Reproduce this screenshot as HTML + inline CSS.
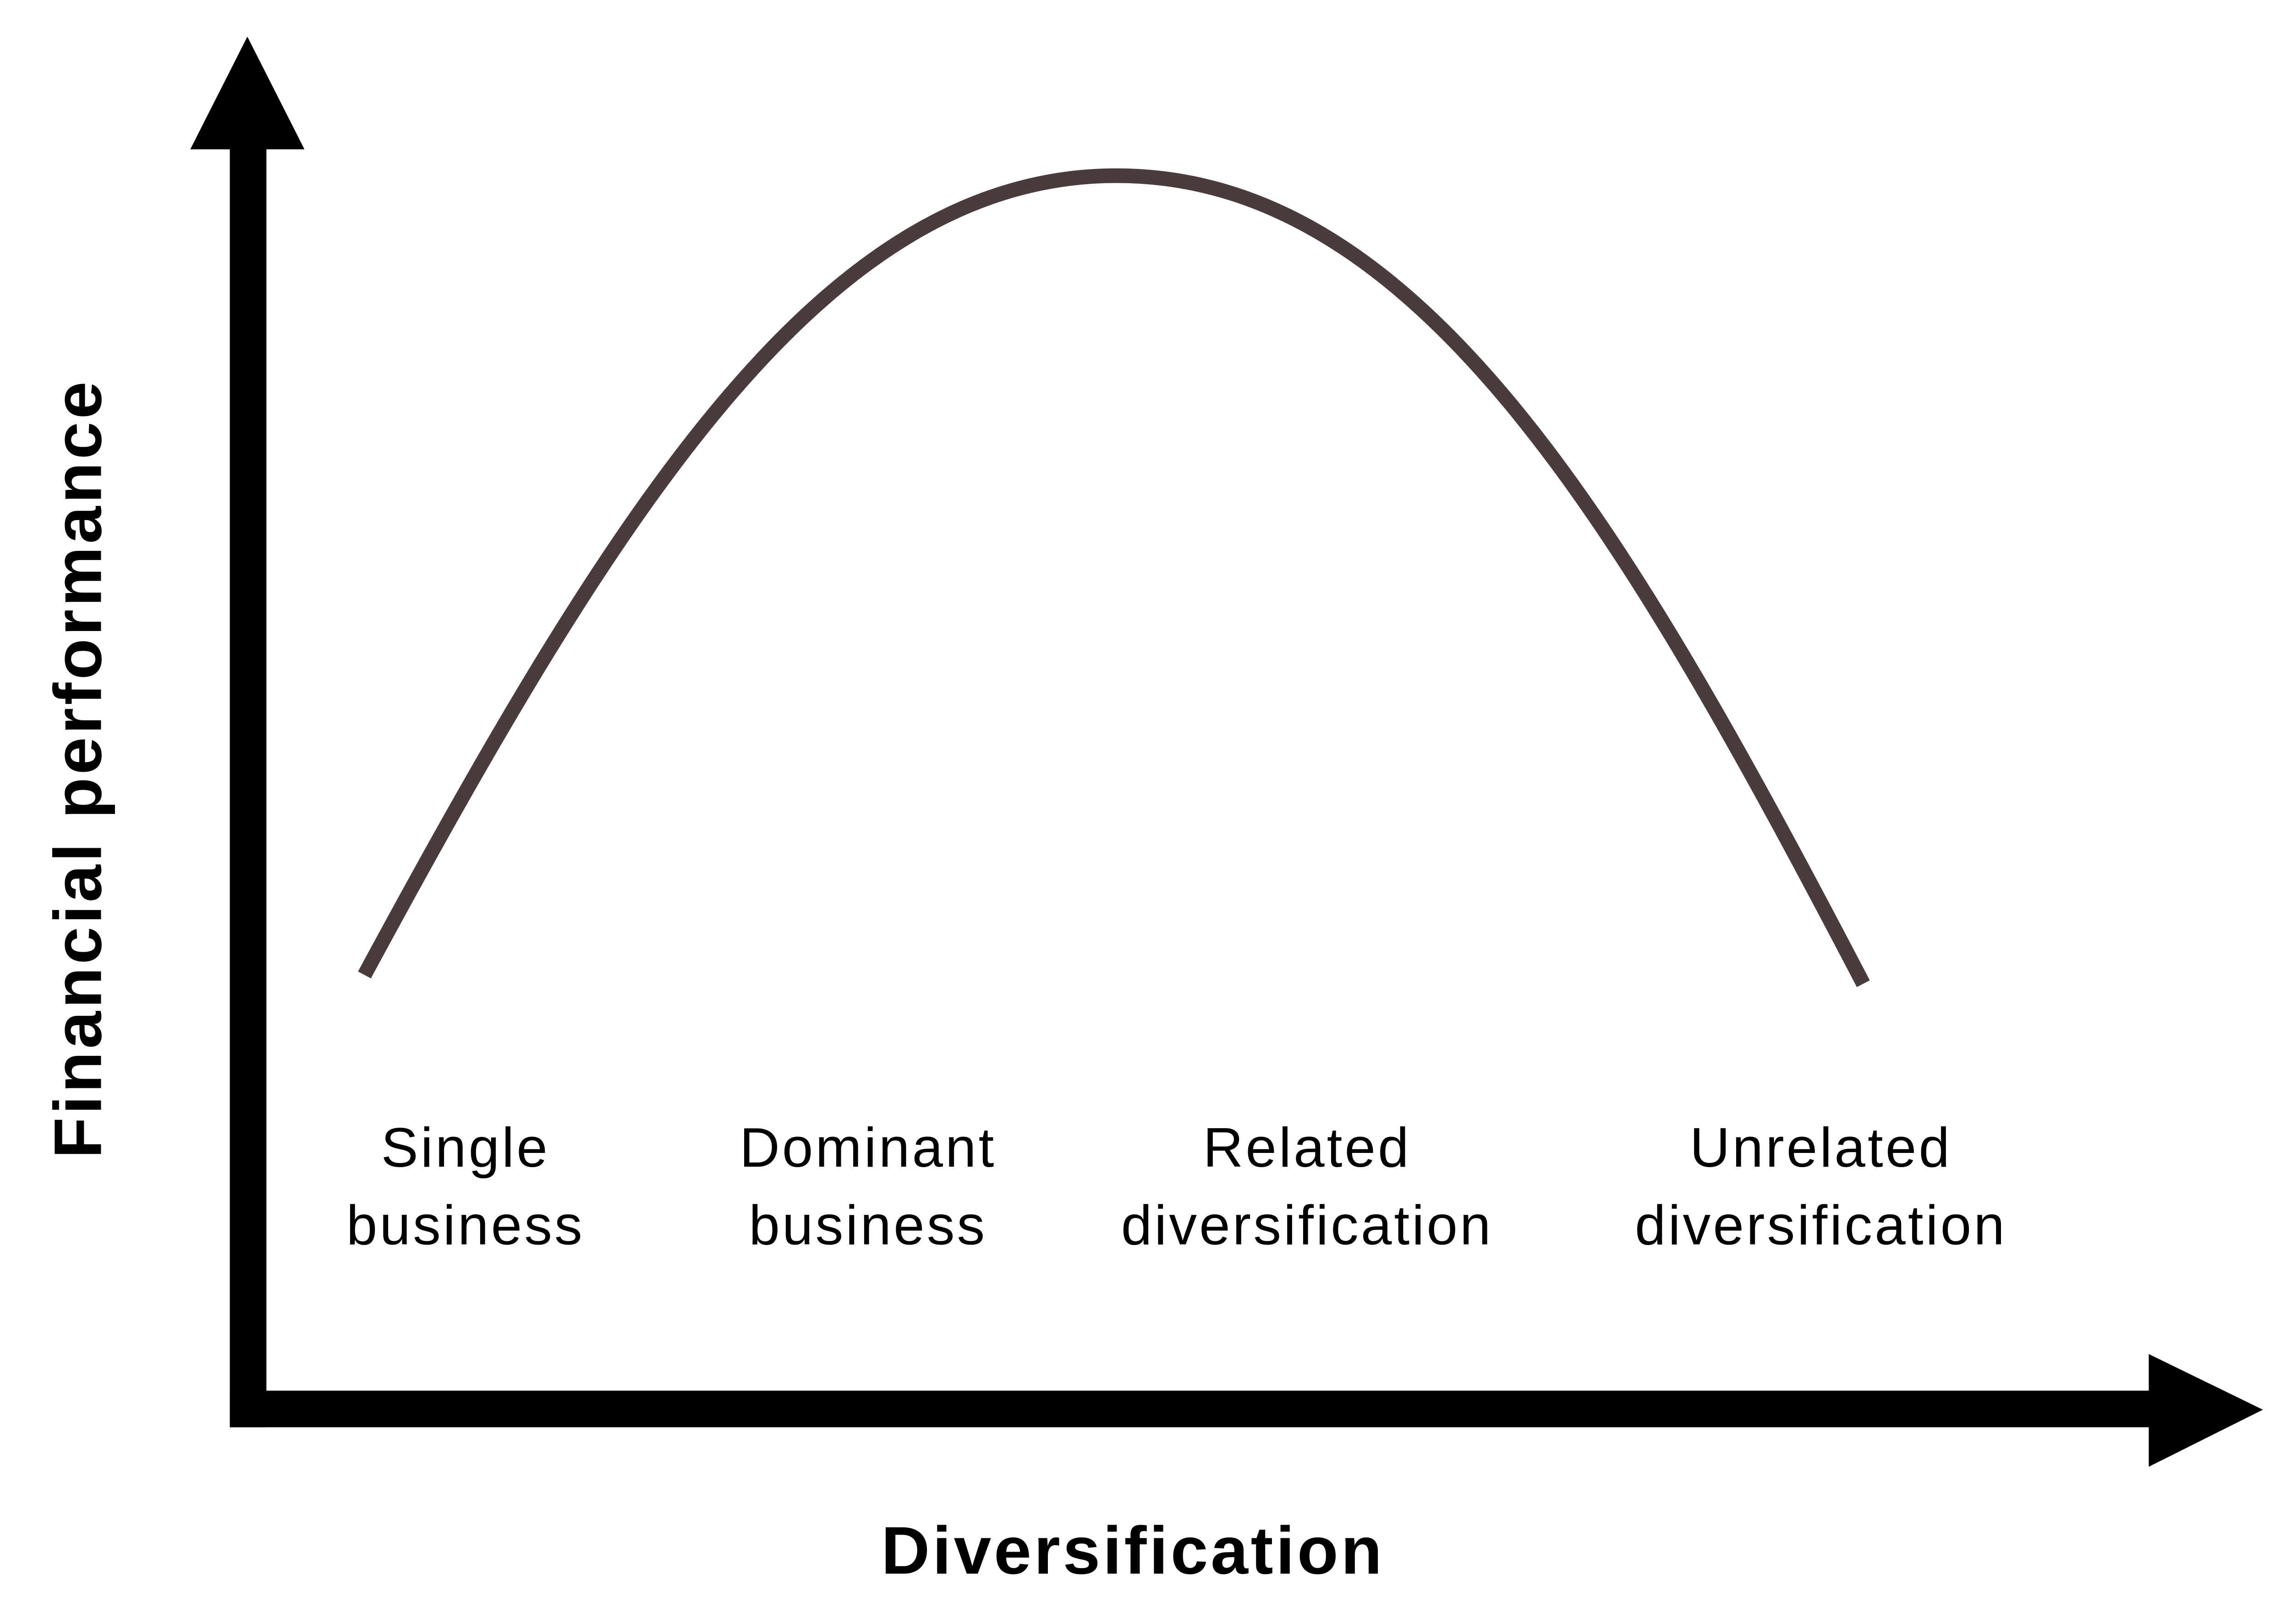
<!DOCTYPE html>
<html>
<head>
<meta charset="utf-8">
<style>
html,body{margin:0;padding:0;background:#fff;}
svg{display:block;}
text{font-family:"Liberation Sans","DejaVu Sans",sans-serif;fill:#000;}
</style>
</head>
<body>
<svg width="5009" height="3544" viewBox="0 0 1568 1109.4" preserveAspectRatio="none" xmlns="http://www.w3.org/2000/svg">
<rect width="1568" height="1110" fill="#fff"/>
<rect x="157" y="98" width="25" height="877" fill="#000"/>
<polygon points="169,25 130,102 208,102" fill="#000"/>
<rect x="157" y="950" width="1315" height="25" fill="#000"/>
<polygon points="1468,925 1468,1002 1546,963" fill="#000"/>
<path d="M249,666 C 425,340 565,120 763,120 C 970,120 1110,360 1273,672" fill="none" stroke="#4a3c3c" stroke-width="10"/>
<g font-size="38" text-anchor="middle" letter-spacing="1.6">
<text x="318" y="797">Single</text>
<text x="318" y="850">business</text>
<text x="593" y="797">Dominant</text>
<text x="593" y="850">business</text>
<text x="893" y="797">Related</text>
<text x="893" y="850">diversification</text>
<text x="1244" y="797">Unrelated</text>
<text x="1244" y="850">diversification</text>
</g>
<text x="774" y="1075" font-size="46" font-weight="bold" text-anchor="middle" letter-spacing="1.8">Diversification</text>
<text transform="translate(69,525) rotate(-90)" font-size="46" font-weight="bold" text-anchor="middle" letter-spacing="2">Financial performance</text>
</svg>
</body>
</html>
